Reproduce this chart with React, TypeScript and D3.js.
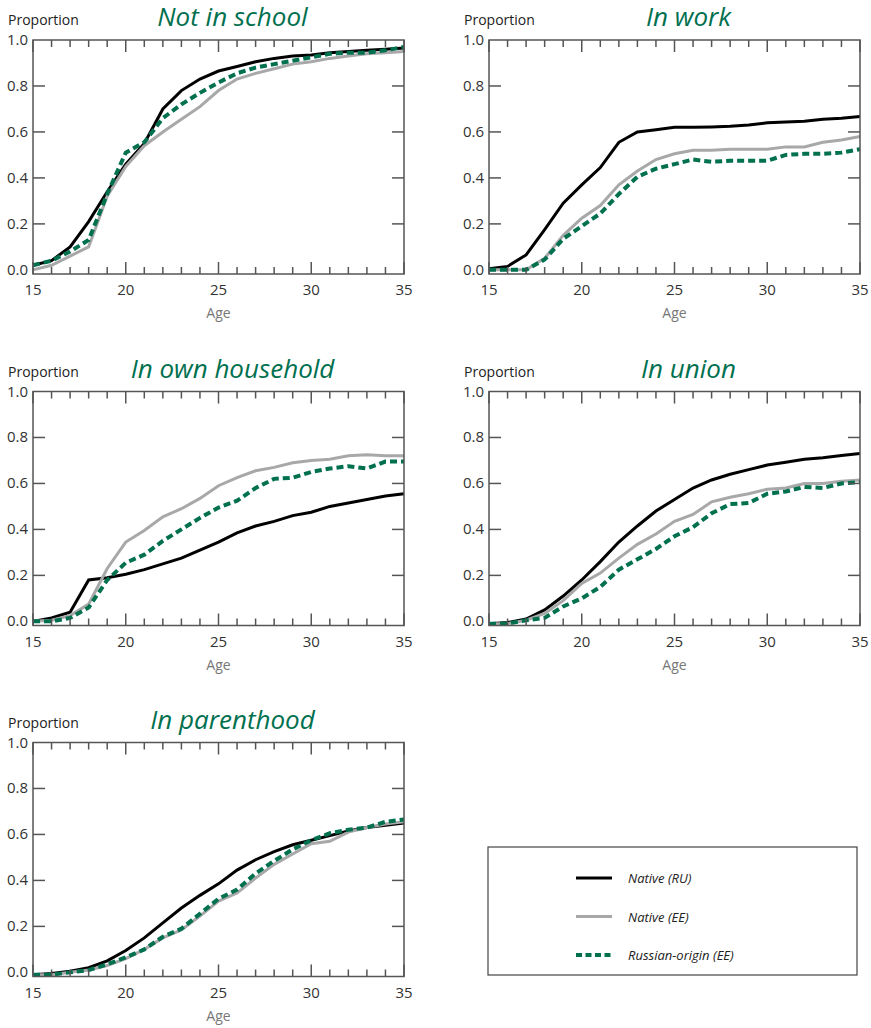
import * as d3 from 'd3';

const ages = d3.range(15, 36);

const notInSchoolRU = [0.02, 0.04, 0.10, 0.21, 0.34, 0.46, 0.55, 0.70, 0.78, 0.83, 0.865, 0.885, 0.905, 0.92, 0.93, 0.935, 0.945, 0.95, 0.955, 0.96, 0.965];
const notInSchoolEE = [0.0, 0.02, 0.06, 0.10, 0.32, 0.45, 0.54, 0.60, 0.655, 0.71, 0.78, 0.83, 0.855, 0.875, 0.895, 0.905, 0.92, 0.93, 0.94, 0.945, 0.95];
const notInSchoolRO = [0.02, 0.04, 0.08, 0.13, 0.33, 0.51, 0.555, 0.66, 0.72, 0.77, 0.815, 0.855, 0.88, 0.895, 0.91, 0.925, 0.94, 0.945, 0.945, 0.955, 0.97];

const inWorkRU = [0.005, 0.015, 0.065, 0.175, 0.29, 0.37, 0.445, 0.555, 0.60, 0.61, 0.62, 0.62, 0.622, 0.625, 0.63, 0.64, 0.643, 0.647, 0.655, 0.66, 0.667];
const inWorkEE = [0.0, 0.0, 0.0, 0.05, 0.15, 0.225, 0.28, 0.37, 0.43, 0.48, 0.505, 0.52, 0.52, 0.525, 0.525, 0.525, 0.535, 0.535, 0.555, 0.565, 0.58];
const inWorkRO = [0.0, 0.0, 0.0, 0.045, 0.135, 0.19, 0.245, 0.33, 0.405, 0.44, 0.46, 0.48, 0.47, 0.475, 0.475, 0.475, 0.50, 0.505, 0.505, 0.51, 0.525];

const householdRU = [0.0, 0.015, 0.04, 0.18, 0.19, 0.205, 0.225, 0.25, 0.275, 0.31, 0.345, 0.385, 0.415, 0.435, 0.46, 0.475, 0.50, 0.515, 0.53, 0.545, 0.555];
const householdEE = [0.0, 0.005, 0.025, 0.075, 0.23, 0.345, 0.395, 0.455, 0.49, 0.535, 0.59, 0.625, 0.655, 0.67, 0.69, 0.70, 0.705, 0.72, 0.725, 0.72, 0.72];
const householdRO = [0.0, 0.0, 0.015, 0.06, 0.18, 0.255, 0.29, 0.35, 0.40, 0.45, 0.495, 0.525, 0.58, 0.62, 0.625, 0.65, 0.665, 0.675, 0.665, 0.695, 0.695];

const unionRU = [-0.01, -0.005, 0.01, 0.05, 0.11, 0.18, 0.26, 0.345, 0.415, 0.48, 0.53, 0.58, 0.615, 0.64, 0.66, 0.68, 0.692, 0.705, 0.712, 0.722, 0.73];
const unionEE = [-0.01, -0.01, 0.005, 0.035, 0.09, 0.165, 0.21, 0.275, 0.335, 0.38, 0.435, 0.465, 0.52, 0.54, 0.555, 0.575, 0.58, 0.60, 0.60, 0.61, 0.615];
const unionRO = [-0.01, -0.01, 0.005, 0.015, 0.065, 0.10, 0.15, 0.225, 0.27, 0.315, 0.37, 0.41, 0.47, 0.51, 0.515, 0.555, 0.565, 0.585, 0.58, 0.60, 0.605];

const parentRU = [-0.01, -0.005, 0.005, 0.02, 0.05, 0.095, 0.15, 0.215, 0.28, 0.335, 0.385, 0.445, 0.49, 0.525, 0.555, 0.575, 0.595, 0.615, 0.63, 0.64, 0.65];
const parentEE = [-0.01, -0.01, 0.0, 0.01, 0.03, 0.06, 0.10, 0.15, 0.185, 0.245, 0.31, 0.345, 0.41, 0.47, 0.515, 0.56, 0.57, 0.61, 0.63, 0.645, 0.655];
const parentRO = [-0.01, -0.01, 0.0, 0.01, 0.035, 0.065, 0.10, 0.155, 0.19, 0.255, 0.32, 0.36, 0.43, 0.485, 0.535, 0.575, 0.605, 0.62, 0.63, 0.655, 0.665];

const seriesNames = ['Native (RU)', 'Native (EE)', 'Russian-origin (EE)'];
const yTicks = [0, 0.2, 0.4, 0.6, 0.8, 1.0];
const xTicks = [15, 20, 25, 30, 35];

const panels = [
  { title: 'Not in school', values: [notInSchoolRU, notInSchoolEE, notInSchoolRO] },
  { title: 'In work', values: [inWorkRU, inWorkEE, inWorkRO] },
  { title: 'In own household', values: [householdRU, householdEE, householdRO] },
  { title: 'In union', values: [unionRU, unionEE, unionRO] },
  { title: 'In parenthood', values: [parentRU, parentEE, parentRO] },
];

const GREEN = '#00704f';
const seriesStyle = [
  { stroke: '#000000', width: 3, dash: undefined as string | undefined },
  { stroke: '#a8a8a8', width: 3, dash: undefined as string | undefined },
  { stroke: GREEN, width: 4, dash: '7,4' },
];

const FONT = '"Open Sans", "Noto Sans", sans-serif';
const colLeft = [33, 489];
const rowTop = [40, 391.5, 742.5];
const plotW = 371;
const plotH = 234;

function Panel({ title, values, left, top }: { title: string; values: number[][]; left: number; top: number }) {
  const x = d3.scaleLinear().domain([15, 35]).range([0, plotW]);
  const y = d3.scaleLinear().domain([-0.018, 1]).range([plotH, 0]);
  const line = d3.line<number>().x((_d, i) => x(ages[i])).y(d => y(d));

  return (
    <g transform={`translate(${left},${top})`}>
      <text x={-25} y={-15} fontFamily={FONT} fontSize={14} fill="#222">Proportion</text>
      <text x={plotW / 2 + 14} y={-14} textAnchor="middle" fontFamily={FONT} fontSize={26} fontStyle="italic" fontWeight={500} fill={GREEN}>{title}</text>
      {values.map((vals, i) => (
        <path key={i} d={line(vals) || ''} fill="none" stroke={seriesStyle[i].stroke} strokeWidth={seriesStyle[i].width} strokeDasharray={seriesStyle[i].dash} />
      ))}
      <rect x={0} y={0} width={plotW} height={plotH} fill="none" stroke="#555" strokeWidth={1.5} />
      {ages.map(a => {
        const major = a % 5 === 0;
        const len = major ? 12 : 7;
        return (
          <g key={a}>
            <line x1={x(a)} x2={x(a)} y1={plotH} y2={plotH - len} stroke="#555" strokeWidth={1.5} />
            <line x1={x(a)} x2={x(a)} y1={0} y2={len} stroke="#555" strokeWidth={1.5} />
          </g>
        );
      })}
      {yTicks.slice(1, -1).map(t => (
        <g key={t}>
          <line x1={0} x2={12} y1={y(t)} y2={y(t)} stroke="#555" strokeWidth={1.5} />
          <line x1={plotW} x2={plotW - 12} y1={y(t)} y2={y(t)} stroke="#555" strokeWidth={1.5} />
        </g>
      ))}
      {yTicks.map(t => (
        <text key={t} x={-5} y={y(t) + 5} textAnchor="end" fontFamily={FONT} fontSize={15} fill="#333">{t.toFixed(1)}</text>
      ))}
      {xTicks.map(t => (
        <text key={t} x={x(t)} y={plotH + 21} textAnchor="middle" fontFamily={FONT} fontSize={15} fill="#333">{t}</text>
      ))}
      <text x={plotW / 2} y={plotH + 44} textAnchor="middle" fontFamily={FONT} fontSize={14} fill="#777">Age</text>
    </g>
  );
}

function Legend() {
  const rows = d3.scalePoint<string>().domain(seriesNames).range([878, 955]);
  return (
    <g>
      <rect x={488} y={847} width={369} height={128} fill="#fff" stroke="#444" strokeWidth={1.2} />
      {seriesNames.map((name, i) => (
        <g key={name}>
          <line x1={576} x2={612} y1={rows(name)} y2={rows(name)} stroke={seriesStyle[i].stroke} strokeWidth={seriesStyle[i].width} strokeDasharray={i === 2 ? '6,3.5' : undefined} />
          <text x={628} y={(rows(name) || 0) + 5} fontFamily={FONT} fontSize={13} fontStyle="italic" fill="#222">{name}</text>
        </g>
      ))}
    </g>
  );
}

export default function App() {
  return (
    <svg width={871} height={1028} style={{ position: 'absolute', left: 0, top: 0, background: '#fff' }}>
      {panels.map((p, i) => (
        <Panel key={p.title} title={p.title} values={p.values} left={colLeft[i % 2]} top={rowTop[Math.floor(i / 2)]} />
      ))}
      <Legend />
    </svg>
  );
}
